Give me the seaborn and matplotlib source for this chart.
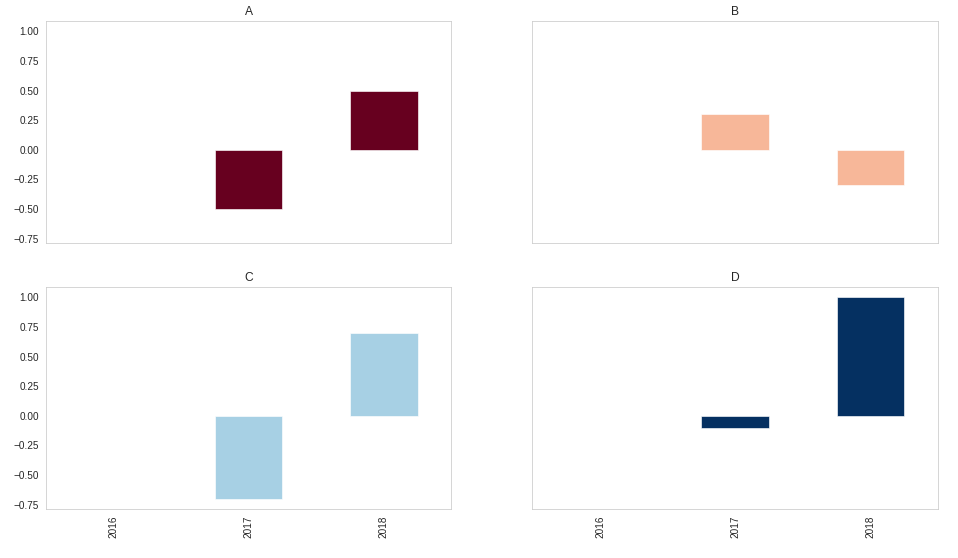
import numpy as np
import pandas as pd
import matplotlib
matplotlib.use("Agg")
import matplotlib.pyplot as plt
import seaborn as sns

# yearly change per series (first year has no change)
years = ["2016", "2017", "2018"]
series_names = ["A", "B", "C", "D"]
change_a = [np.nan, -0.5, 0.5]
change_b = [np.nan, 0.3, -0.3]
change_c = [np.nan, -0.7, 0.7]
change_d = [np.nan, -0.1, 1.0]

df = pd.DataFrame({"year": years, "A": change_a, "B": change_b,
                   "C": change_c, "D": change_d})

sns.set_style("whitegrid")
plt.rcParams["font.family"] = ["Liberation Sans", "DejaVu Sans"]
colors = plt.get_cmap("RdBu")(np.linspace(0, 1, len(series_names)))

fig, axes = plt.subplots(2, 2, figsize=(958 / 72, 558 / 72), dpi=72,
                         sharex=True, sharey=True)
fig.subplots_adjust(left=0.048, right=0.979, top=0.962, bottom=0.088,
                    wspace=0.2, hspace=0.2)

for ax, name, col in zip(axes.flat, series_names, colors):
    sns.barplot(data=df, x="year", y=name, order=years, color=col,
                saturation=1, width=0.5, edgecolor="white", linewidth=0.6,
                ax=ax)
    ax.set_title(name)
    ax.set_xlabel("")
    ax.set_ylabel("")
    ax.grid(False)
    ax.tick_params(axis="x", labelrotation=90)

ax0 = axes[0, 0]
ax0.set_ylim(-0.785, 1.085)
ax0.set_yticks(np.arange(-0.75, 1.01, 0.25))

fig.savefig("out.png", dpi=72)
